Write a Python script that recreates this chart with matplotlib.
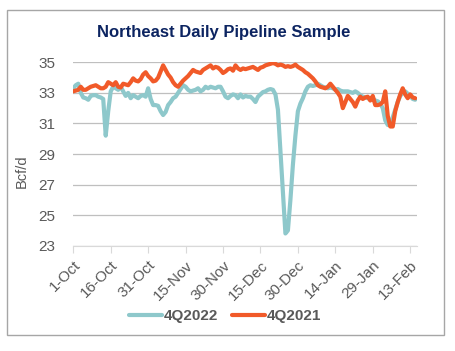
import matplotlib
matplotlib.use('Agg')
import matplotlib.pyplot as plt
from matplotlib.patches import Rectangle
import numpy as np

plt.rcParams['font.family'] = ['Liberation Sans', 'DejaVu Sans']

# daily flows, Bcf/d, day 0 = 1-Oct
q4_2022 = [
    33.3, 33.5, 33.6, 33.0, 32.7, 32.65, 32.55, 32.8, 32.85, 32.85,
    32.75, 32.7, 32.6, 30.2, 31.8, 33.1, 33.4, 33.3, 33.2, 33.4,
    33.1, 32.8, 33.0, 32.65, 32.85, 32.75, 32.65, 32.8, 32.85, 32.75,
    33.3, 32.6, 32.2, 32.2, 32.15, 31.8, 31.55, 31.75, 32.2, 32.4,
    32.65, 32.75, 33.0, 33.25, 33.5, 33.4, 33.2, 33.1, 33.15, 33.2,
    33.3, 33.1, 33.2, 33.4, 33.3, 33.4, 33.35, 33.3, 33.4, 33.4,
    33.1, 32.75, 32.65, 32.8, 32.9, 32.85, 32.65, 32.9, 32.7, 32.8,
    32.75, 32.75, 32.6, 32.4, 32.75, 32.9, 33.05, 33.1, 33.2, 33.25,
    33.2, 32.9, 31.9, 29.2, 26.4, 23.8, 24.0, 26.0, 28.3, 30.2,
    31.8, 32.3, 32.65, 33.1, 33.4, 33.5, 33.45, 33.5, 33.6, 33.5,
    33.4, 33.35, 33.3, 33.35, 33.3, 33.2, 33.25, 33.15, 33.1, 33.1,
    33.1, 33.05, 33.0, 33.1, 33.0, 32.85, 32.75, 32.7, 32.65, 32.65,
    32.65, 32.5, 32.45, 32.3, 32.0, 31.2, 30.9, 30.95, 31.4, 31.9,
    32.4, 32.8, 33.0, 33.1, 32.95, 32.8, 32.6, 32.55,
]
q4_2021 = [
    33.1, 33.15, 33.2, 33.4, 33.2, 33.2, 33.3, 33.4, 33.45, 33.5,
    33.4, 33.3, 33.3, 33.4, 33.7, 33.6, 33.5, 33.7, 33.4, 33.35,
    33.6, 33.55, 33.5, 33.7, 33.95, 33.8, 33.75, 33.9, 34.2, 34.35,
    34.1, 33.95, 33.75, 33.8, 34.0, 34.4, 34.8, 34.5, 34.2, 34.0,
    33.7, 33.5, 33.4, 33.6, 33.8, 33.95, 34.1, 34.3, 34.5, 34.4,
    34.35, 34.3, 34.5, 34.6, 34.7, 34.8, 34.6, 34.7, 34.65, 34.5,
    34.3, 34.4, 34.55, 34.6, 34.45, 34.8, 34.6, 34.5, 34.6, 34.55,
    34.6, 34.65, 34.7, 34.6, 34.5, 34.65, 34.7, 34.8, 34.85, 34.9,
    34.95, 34.9, 34.8, 34.85, 34.8, 34.7, 34.75, 34.7, 34.75, 34.85,
    34.7, 34.6, 34.5, 34.35, 34.25, 34.1, 33.95, 33.75, 33.5, 33.4,
    33.35, 33.3, 33.4, 33.6, 33.4, 33.2, 33.0, 32.75, 32.0, 32.4,
    32.8, 32.6, 32.4, 32.1, 32.5, 32.75, 32.6, 32.7, 32.75, 32.5,
    32.8, 32.2, 32.2, 32.25, 32.4, 33.1, 31.5, 30.8, 30.8, 31.8,
    32.4, 32.9, 33.3, 32.9, 32.65, 32.9, 32.7, 32.65,
]
x_labels = ['1-Oct', '16-Oct', '31-Oct', '15-Nov', '30-Nov',
            '15-Dec', '30-Dec', '14-Jan', '29-Jan', '13-Feb']
y_ticks = [23, 25, 27, 29, 31, 33, 35]

gray = '#595959'

fig = plt.figure(figsize=(4.56, 3.51), dpi=100)
ax = fig.add_axes([0.1607, 0.30, 0.7531, 0.5225])

days = np.arange(len(q4_2022))
ax.plot(days, q4_2022, color='#8EC8CB', lw=3, label='4Q2022',
        solid_joinstyle='round', solid_capstyle='round')
ax.plot(days, q4_2021, color='#F15A29', lw=3, label='4Q2021',
        solid_joinstyle='round', solid_capstyle='round')

ax.set_xlim(0, 137.6)
ax.set_ylim(23, 35)
ax.set_yticks(y_ticks)
ax.set_xticks(np.arange(len(x_labels)) * 15)
ax.set_xticklabels(x_labels, rotation=45, ha='right', rotation_mode='anchor')

ax.grid(axis='y', color='#BFBFBF', lw=0.9)
ax.set_axisbelow(True)
for s in ['left', 'right', 'top']:
    ax.spines[s].set_visible(False)
ax.spines['bottom'].set_color('#D9D9D9')
ax.tick_params(axis='y', length=0, pad=13, labelsize=11, labelcolor=gray)
ax.tick_params(axis='x', length=5, color='#D9D9D9', labelsize=11,
               labelcolor=gray, pad=4)

fig.text(224 / 456, 1 - 33 / 351, 'Northeast Daily Pipeline Sample',
         ha='center', va='center', fontsize=12, weight='bold', color='#0C2461')
fig.text(22 / 456, 1 - 171 / 351, 'Bcf/d', rotation=90, ha='center',
         va='center', fontsize=10.5, color=gray)

leg = fig.legend(loc='center', bbox_to_anchor=(225 / 456, 1 - 316 / 351),
                 ncol=2, frameon=False, handlelength=2.2, handletextpad=0.1,
                 columnspacing=0.9, prop={'weight': 'bold', 'size': 11})
for t in leg.get_texts():
    t.set_color(gray)

fig.add_artist(Rectangle((0.0147, 0.0456), 0.9596, 0.9259,
                         transform=fig.transFigure, fill=False,
                         ec='#A6A6A6', lw=1))

fig.savefig('out.png', dpi=100)
